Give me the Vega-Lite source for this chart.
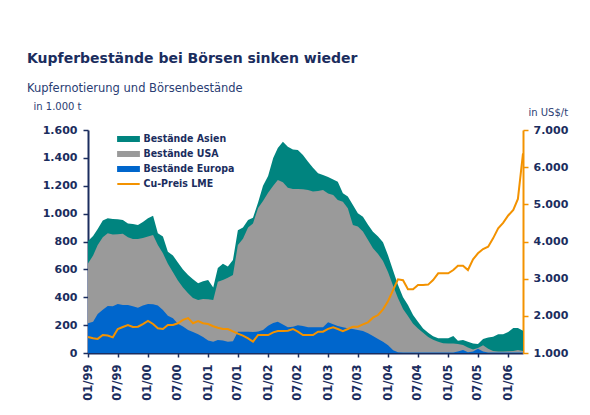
{
  "$schema": "https://vega.github.io/schema/vega-lite/v6.json",
  "width": 435,
  "height": 223,
  "autosize": "none",
  "padding": {"left": 88, "top": 130, "right": 67, "bottom": 62},
  "background": "white",
  "config": {
    "view": {"stroke": null},
    "font": "DejaVu Sans",
    "axisLeft": {
      "values": [0, 200, 400, 600, 800, 1000, 1200, 1400, 1600],
      "labelExpr": "replace(format(datum.value, ','), ',', '.')",
      "labelOverlap": false,
      "labelFont": "DejaVu Sans",
      "labelFontWeight": "bold",
      "labelFontSize": 11,
      "labelColor": "#1b2d5e",
      "labelPadding": 6,
      "tickSize": 5,
      "tickWidth": 1.5,
      "tickColor": "#1b2d5e",
      "domainColor": "#1b2d5e",
      "domainWidth": 2,
      "grid": false,
      "titleAngle": 0,
      "titleAlign": "left",
      "titleBaseline": "alphabetic",
      "titleX": -55,
      "titleY": -21,
      "titleFont": "DejaVu Sans",
      "titleFontWeight": "normal",
      "titleFontSize": 10,
      "titleColor": "#2a3d73"
    }
  },
  "title": {
    "text": "Kupferbestände bei Börsen sinken wieder",
    "subtitle": "Kupfernotierung und Börsenbestände",
    "anchor": "start",
    "frame": "group",
    "dx": -61,
    "offset": 7,
    "font": "DejaVu Sans",
    "fontSize": 14,
    "fontWeight": "bold",
    "color": "#1b2d5e",
    "subtitleFont": "DejaVu Sans",
    "subtitleFontSize": 11.5,
    "subtitleColor": "#2a3d73",
    "subtitlePadding": 17
  },
  "data": {"values": [
    {"d": "1999-01-01", "Europa": 213, "EuropaUSA": 643, "Gesamt": 804, "Preis": 1430},
    {"d": "1999-02-01", "Europa": 225, "EuropaUSA": 700, "Gesamt": 840, "Preis": 1395},
    {"d": "1999-03-01", "Europa": 280, "EuropaUSA": 775, "Gesamt": 890, "Preis": 1380},
    {"d": "1999-04-01", "Europa": 310, "EuropaUSA": 830, "Gesamt": 950, "Preis": 1484},
    {"d": "1999-05-01", "Europa": 337, "EuropaUSA": 859, "Gesamt": 966, "Preis": 1470},
    {"d": "1999-06-01", "Europa": 335, "EuropaUSA": 850, "Gesamt": 962, "Preis": 1421},
    {"d": "1999-07-01", "Europa": 352, "EuropaUSA": 852, "Gesamt": 959, "Preis": 1646},
    {"d": "1999-08-01", "Europa": 345, "EuropaUSA": 855, "Gesamt": 955, "Preis": 1700},
    {"d": "1999-09-01", "Europa": 344, "EuropaUSA": 830, "Gesamt": 930, "Preis": 1753},
    {"d": "1999-10-01", "Europa": 335, "EuropaUSA": 818, "Gesamt": 925, "Preis": 1700},
    {"d": "1999-11-01", "Europa": 325, "EuropaUSA": 818, "Gesamt": 918, "Preis": 1708},
    {"d": "1999-12-01", "Europa": 340, "EuropaUSA": 825, "Gesamt": 940, "Preis": 1780},
    {"d": "2000-01-01", "Europa": 352, "EuropaUSA": 835, "Gesamt": 966, "Preis": 1861},
    {"d": "2000-02-01", "Europa": 350, "EuropaUSA": 847, "Gesamt": 985, "Preis": 1780},
    {"d": "2000-03-01", "Europa": 340, "EuropaUSA": 775, "Gesamt": 860, "Preis": 1664},
    {"d": "2000-04-01", "Europa": 309, "EuropaUSA": 715, "Gesamt": 835, "Preis": 1646},
    {"d": "2000-05-01", "Europa": 268, "EuropaUSA": 640, "Gesamt": 727, "Preis": 1753},
    {"d": "2000-06-01", "Europa": 250, "EuropaUSA": 580, "Gesamt": 700, "Preis": 1753},
    {"d": "2000-07-01", "Europa": 210, "EuropaUSA": 520, "Gesamt": 650, "Preis": 1800},
    {"d": "2000-08-01", "Europa": 190, "EuropaUSA": 470, "Gesamt": 600, "Preis": 1890},
    {"d": "2000-09-01", "Europa": 165, "EuropaUSA": 428, "Gesamt": 560, "Preis": 1940},
    {"d": "2000-10-01", "Europa": 150, "EuropaUSA": 395, "Gesamt": 530, "Preis": 1800},
    {"d": "2000-11-01", "Europa": 135, "EuropaUSA": 380, "Gesamt": 500, "Preis": 1861},
    {"d": "2000-12-01", "Europa": 115, "EuropaUSA": 388, "Gesamt": 515, "Preis": 1800},
    {"d": "2001-01-01", "Europa": 90, "EuropaUSA": 385, "Gesamt": 524, "Preis": 1780},
    {"d": "2001-02-01", "Europa": 80, "EuropaUSA": 380, "Gesamt": 470, "Preis": 1720},
    {"d": "2001-03-01", "Europa": 93, "EuropaUSA": 512, "Gesamt": 610, "Preis": 1680},
    {"d": "2001-04-01", "Europa": 90, "EuropaUSA": 524, "Gesamt": 640, "Preis": 1646},
    {"d": "2001-05-01", "Europa": 81, "EuropaUSA": 540, "Gesamt": 620, "Preis": 1646},
    {"d": "2001-06-01", "Europa": 84, "EuropaUSA": 560, "Gesamt": 667, "Preis": 1580},
    {"d": "2001-07-01", "Europa": 153, "EuropaUSA": 775, "Gesamt": 880, "Preis": 1520},
    {"d": "2001-08-01", "Europa": 153, "EuropaUSA": 820, "Gesamt": 900, "Preis": 1466},
    {"d": "2001-09-01", "Europa": 153, "EuropaUSA": 900, "Gesamt": 954, "Preis": 1395},
    {"d": "2001-10-01", "Europa": 150, "EuropaUSA": 930, "Gesamt": 971, "Preis": 1305},
    {"d": "2001-11-01", "Europa": 155, "EuropaUSA": 1040, "Gesamt": 1080, "Preis": 1484},
    {"d": "2001-12-01", "Europa": 165, "EuropaUSA": 1090, "Gesamt": 1200, "Preis": 1484},
    {"d": "2002-01-01", "Europa": 195, "EuropaUSA": 1150, "Gesamt": 1270, "Preis": 1484},
    {"d": "2002-02-01", "Europa": 215, "EuropaUSA": 1200, "Gesamt": 1400, "Preis": 1556},
    {"d": "2002-03-01", "Europa": 225, "EuropaUSA": 1241, "Gesamt": 1470, "Preis": 1592},
    {"d": "2002-04-01", "Europa": 205, "EuropaUSA": 1225, "Gesamt": 1515, "Preis": 1592},
    {"d": "2002-05-01", "Europa": 185, "EuropaUSA": 1185, "Gesamt": 1480, "Preis": 1600},
    {"d": "2002-06-01", "Europa": 189, "EuropaUSA": 1177, "Gesamt": 1460, "Preis": 1646},
    {"d": "2002-07-01", "Europa": 200, "EuropaUSA": 1177, "Gesamt": 1457, "Preis": 1574},
    {"d": "2002-08-01", "Europa": 194, "EuropaUSA": 1175, "Gesamt": 1420, "Preis": 1484},
    {"d": "2002-09-01", "Europa": 184, "EuropaUSA": 1170, "Gesamt": 1373, "Preis": 1484},
    {"d": "2002-10-01", "Europa": 184, "EuropaUSA": 1158, "Gesamt": 1330, "Preis": 1484},
    {"d": "2002-11-01", "Europa": 184, "EuropaUSA": 1162, "Gesamt": 1290, "Preis": 1574},
    {"d": "2002-12-01", "Europa": 184, "EuropaUSA": 1170, "Gesamt": 1277, "Preis": 1574},
    {"d": "2003-01-01", "Europa": 220, "EuropaUSA": 1145, "Gesamt": 1262, "Preis": 1650},
    {"d": "2003-02-01", "Europa": 206, "EuropaUSA": 1134, "Gesamt": 1245, "Preis": 1690},
    {"d": "2003-03-01", "Europa": 194, "EuropaUSA": 1098, "Gesamt": 1229, "Preis": 1646},
    {"d": "2003-04-01", "Europa": 185, "EuropaUSA": 1086, "Gesamt": 1146, "Preis": 1590},
    {"d": "2003-05-01", "Europa": 178, "EuropaUSA": 1038, "Gesamt": 1122, "Preis": 1646},
    {"d": "2003-06-01", "Europa": 172, "EuropaUSA": 919, "Gesamt": 1062, "Preis": 1708},
    {"d": "2003-07-01", "Europa": 165, "EuropaUSA": 907, "Gesamt": 1002, "Preis": 1708},
    {"d": "2003-08-01", "Europa": 158, "EuropaUSA": 871, "Gesamt": 978, "Preis": 1771},
    {"d": "2003-09-01", "Europa": 141, "EuropaUSA": 811, "Gesamt": 920, "Preis": 1825},
    {"d": "2003-10-01", "Europa": 122, "EuropaUSA": 751, "Gesamt": 870, "Preis": 1950},
    {"d": "2003-11-01", "Europa": 100, "EuropaUSA": 710, "Gesamt": 835, "Preis": 2022},
    {"d": "2003-12-01", "Europa": 80, "EuropaUSA": 660, "Gesamt": 795, "Preis": 2175},
    {"d": "2004-01-01", "Europa": 55, "EuropaUSA": 580, "Gesamt": 700, "Preis": 2400},
    {"d": "2004-02-01", "Europa": 20, "EuropaUSA": 480, "Gesamt": 590, "Preis": 2700},
    {"d": "2004-03-01", "Europa": 5, "EuropaUSA": 395, "Gesamt": 490, "Preis": 2982},
    {"d": "2004-04-01", "Europa": 3, "EuropaUSA": 315, "Gesamt": 400, "Preis": 2960},
    {"d": "2004-05-01", "Europa": 3, "EuropaUSA": 265, "Gesamt": 344, "Preis": 2713},
    {"d": "2004-06-01", "Europa": 3, "EuropaUSA": 210, "Gesamt": 273, "Preis": 2713},
    {"d": "2004-07-01", "Europa": 3, "EuropaUSA": 175, "Gesamt": 225, "Preis": 2830},
    {"d": "2004-08-01", "Europa": 3, "EuropaUSA": 145, "Gesamt": 175, "Preis": 2830},
    {"d": "2004-09-01", "Europa": 3, "EuropaUSA": 115, "Gesamt": 145, "Preis": 2840},
    {"d": "2004-10-01", "Europa": 3, "EuropaUSA": 95, "Gesamt": 120, "Preis": 2964},
    {"d": "2004-11-01", "Europa": 3, "EuropaUSA": 80, "Gesamt": 105, "Preis": 3144},
    {"d": "2004-12-01", "Europa": 3, "EuropaUSA": 70, "Gesamt": 105, "Preis": 3144},
    {"d": "2005-01-01", "Europa": 3, "EuropaUSA": 69, "Gesamt": 105, "Preis": 3144},
    {"d": "2005-02-01", "Europa": 3, "EuropaUSA": 69, "Gesamt": 122, "Preis": 3233},
    {"d": "2005-03-01", "Europa": 10, "EuropaUSA": 65, "Gesamt": 88, "Preis": 3350},
    {"d": "2005-04-01", "Europa": 22, "EuropaUSA": 57, "Gesamt": 93, "Preis": 3350},
    {"d": "2005-05-01", "Europa": 5, "EuropaUSA": 40, "Gesamt": 80, "Preis": 3233},
    {"d": "2005-06-01", "Europa": 10, "EuropaUSA": 25, "Gesamt": 68, "Preis": 3520},
    {"d": "2005-07-01", "Europa": 30, "EuropaUSA": 35, "Gesamt": 65, "Preis": 3682},
    {"d": "2005-08-01", "Europa": 10, "EuropaUSA": 55, "Gesamt": 100, "Preis": 3798},
    {"d": "2005-09-01", "Europa": 3, "EuropaUSA": 30, "Gesamt": 112, "Preis": 3861},
    {"d": "2005-10-01", "Europa": 3, "EuropaUSA": 14, "Gesamt": 117, "Preis": 4085},
    {"d": "2005-11-01", "Europa": 3, "EuropaUSA": 10, "Gesamt": 134, "Preis": 4354},
    {"d": "2005-12-01", "Europa": 3, "EuropaUSA": 10, "Gesamt": 134, "Preis": 4500},
    {"d": "2006-01-01", "Europa": 3, "EuropaUSA": 12, "Gesamt": 150, "Preis": 4700},
    {"d": "2006-02-01", "Europa": 3, "EuropaUSA": 14, "Gesamt": 180, "Preis": 4848},
    {"d": "2006-03-01", "Europa": 3, "EuropaUSA": 22, "Gesamt": 180, "Preis": 5144},
    {"d": "2006-04-01", "Europa": 3, "EuropaUSA": 14, "Gesamt": 160, "Preis": 6372}
  ]},
  "encoding": {
    "x": {
      "field": "d",
      "type": "temporal",
      "scale": {"type": "utc", "nice": false},
      "axis": {
        "title": null,
        "format": "%m/%y",
        "tickCount": {"interval": "month", "step": 6},
        "labelAngle": 270,
        "labelFont": "DejaVu Sans",
        "labelFontWeight": "bold",
        "labelFontSize": 11.5,
        "labelColor": "#1b2d5e",
        "labelPadding": 7,
        "labelOverlap": false,
        "labelFlush": false,
        "labelBound": false,
        "tickSize": 4,
        "tickWidth": 1.5,
        "tickColor": "#1b2d5e",
        "domainColor": "#1b2d5e",
        "domainWidth": 2,
        "grid": false
      }
    }
  },
  "layer": [
    {
      "layer": [
        {
          "mark": {"type": "area", "interpolate": "linear"},
          "encoding": {
            "y": {
              "field": "Gesamt",
              "type": "quantitative",
              "stack": null,
              "title": "in 1.000 t",
              "scale": {"domain": [0, 1600], "nice": false},
              "axis": {"values": [0, 200, 400, 600, 800, 1000, 1200, 1400, 1600], "labelOverlap": false}
            },
            "color": {
              "datum": "Bestände Asien",
              "type": "nominal",
              "scale": {
                "domain": ["Bestände Asien", "Bestände USA", "Bestände Europa", "Cu-Preis LME"],
                "range": ["#00847f", "#9a9a9a", "#0066cc", "#f39200"]
              },
              "legend": {
                "orient": "none",
                "legendX": 31.5,
                "legendY": 0,
                "title": null,
                "padding": 0,
                "rowPadding": 0,
                "symbolSize": 256,
                "symbolStrokeWidth": 2,
                "labelFont": "DejaVu Sans Condensed, DejaVu Sans",
                "labelFontWeight": "bold",
                "labelFontSize": 10.5,
                "labelColor": "#1b2d5e",
                "labelOffset": 6,
                "encode": {
                  "symbols": {
                    "update": {
                      "shape": {"signal": "datum.value === 'Cu-Preis LME' ? 'M-1.4,0H1.4' : 'M-1.3,-0.25H1.3V0.25H-1.3Z'"},
                      "fill": {"signal": "datum.value === 'Cu-Preis LME' ? 'transparent' : scale('color', datum.value)"},
                      "stroke": {"signal": "datum.value === 'Cu-Preis LME' ? scale('color', datum.value) : 'transparent'"},
                      "strokeWidth": {"value": 2},
                      "opacity": {"value": 1},
                      "fillOpacity": {"value": 1}
                    }
                  }
                }
              }
            }
          }
        },
        {
          "mark": {"type": "area", "interpolate": "linear"},
          "encoding": {
            "y": {"field": "EuropaUSA", "type": "quantitative", "stack": null, "title": "in 1.000 t",
                  "axis": {"values": [0, 200, 400, 600, 800, 1000, 1200, 1400, 1600], "labelOverlap": false}},
            "color": {"datum": "Bestände USA", "type": "nominal"}
          }
        },
        {
          "mark": {"type": "area", "interpolate": "linear"},
          "encoding": {
            "y": {"field": "Europa", "type": "quantitative", "stack": null, "title": "in 1.000 t",
                  "axis": {"values": [0, 200, 400, 600, 800, 1000, 1200, 1400, 1600], "labelOverlap": false}},
            "color": {"datum": "Bestände Europa", "type": "nominal"}
          }
        }
      ]
    },
    {
      "mark": {"type": "line", "strokeWidth": 2, "interpolate": "linear"},
      "encoding": {
        "y": {
          "field": "Preis",
          "type": "quantitative",
          "title": "in US$/t",
          "scale": {"domain": [1000, 7000], "nice": false, "zero": false},
          "axis": {
            "orient": "right",
            "values": [1000, 2000, 3000, 4000, 5000, 6000, 7000],
            "labelExpr": "replace(format(datum.value, ','), ',', '.')",
            "labelOverlap": false,
            "labelFont": "DejaVu Sans",
            "labelFontWeight": "bold",
            "labelFontSize": 11,
            "labelColor": "#1b2d5e",
            "labelPadding": 5,
            "tickSize": 5,
            "tickWidth": 1.5,
            "tickColor": "#f39200",
            "domainColor": "#f39200",
            "domainWidth": 2,
            "grid": false,
            "titleAngle": 0,
            "titleAlign": "left",
            "titleBaseline": "alphabetic",
            "titleX": 5,
            "titleY": -15,
            "titleFont": "DejaVu Sans",
            "titleFontWeight": "normal",
            "titleFontSize": 10,
            "titleColor": "#2a3d73"
          }
        },
        "color": {"datum": "Cu-Preis LME", "type": "nominal"}
      }
    }
  ],
  "resolve": {"scale": {"y": "independent"}}
}
